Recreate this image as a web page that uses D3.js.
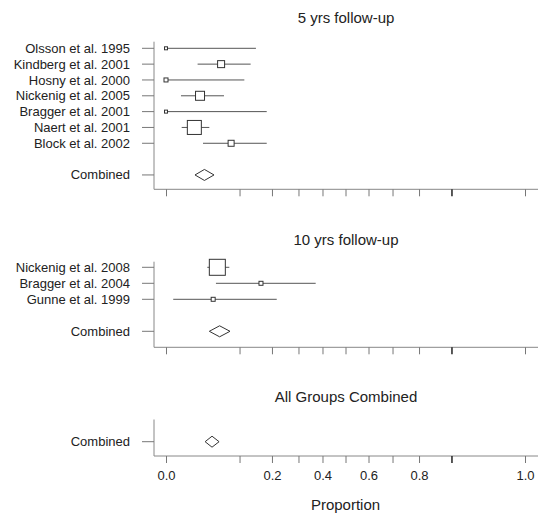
<!DOCTYPE html>
<html>
<head>
<meta charset="utf-8">
<script src="https://cdn.jsdelivr.net/npm/d3@7"></script>
<style>
  body { margin: 0; background: #fff; }
  svg text { font-family: "Liberation Sans", Arial, sans-serif; fill: #222; }
</style>
</head>
<body>
<div id="chart"></div>
<script>
// ---- data ----
const titles = ["5 yrs follow-up", "10 yrs follow-up", "All Groups Combined"];

const studies5 = ["Olsson et al. 1995", "Kindberg et al. 2001", "Hosny et al. 2000",
  "Nickenig et al. 2005", "Bragger et al. 2001", "Naert et al. 2001", "Block et al. 2002"];
const est5 = [0.0, 0.057, 0.0, 0.022, 0.0, 0.0153, 0.079];
const lo5 = [0.0, 0.019, 0.0, 0.0043, 0.0, 0.0047, 0.026];
const hi5 = [0.147, 0.131, 0.113, 0.063, 0.182, 0.0355, 0.182];
const w5 = [9, 49, 16, 81, 9, 196, 36];
const comb5 = [0.028, 0.016, 0.0435];

const studies10 = ["Nickenig et al. 2008", "Bragger et al. 2004", "Gunne et al. 1999"];
const est10 = [0.0496, 0.163, 0.042];
const lo10 = [0.0323, 0.047, 0.001];
const hi10 = [0.0748, 0.371, 0.217];
const w10 = [256, 16, 16];
const comb10 = [0.054, 0.0355, 0.0764];

const combAll = [0.040, 0.029, 0.053];

const tickVals = [0, 0.1, 0.2, 0.3, 0.4, 0.5, 0.6, 0.7, 0.8, 0.9, 1.0];
const tickLabels = ["0.0", "", "0.2", "", "0.4", "", "0.6", "", "0.8", "", "1.0"];

// ---- layout ----
const W = 538, H = 513;
const axisLeft = 154, labelX = 130;

const svg = d3.select("#chart").append("svg")
  .attr("width", W).attr("height", H);

// arcsine square-root transformed axis
const asr = p => Math.asin(Math.sqrt(p));
const x = d3.scaleLinear().domain([0, Math.PI / 2]).range([166, 525]);
const size = d3.scaleSqrt().domain([0, 256]).range([0, 16]);

const panels = [
  { names: studies5, est: est5, lo: lo5, hi: hi5, w: w5, comb: comb5,
    top: 41.7, row0: 48.3, step: 15.83, bottom: 189.3, titleY: 23 },
  { names: studies10, est: est10, lo: lo10, hi: hi10, w: w10, comb: comb10,
    top: 261.7, row0: 267.3, step: 16, bottom: 347.3, titleY: 245 },
  { names: [], est: [], lo: [], hi: [], w: [], comb: combAll,
    top: 419.5, row0: 441.7, step: 16, bottom: 456, titleY: 402 }
];

panels.forEach((p, pi) => {
  const n = p.names.length;
  const y = d3.scaleLinear().domain([0, 1]).range([p.row0, p.row0 + p.step]);
  const combIdx = n > 0 ? n + 1 : 0;
  const g = svg.append("g");

  // title
  g.append("text")
    .attr("x", (axisLeft + W) / 2)
    .attr("y", p.titleY)
    .attr("text-anchor", "middle")
    .style("font-size", "15px")
    .text(titles[pi]);

  // frame: left line and bottom line
  g.append("line")
    .attr("x1", axisLeft).attr("x2", axisLeft)
    .attr("y1", p.top).attr("y2", p.bottom)
    .attr("stroke", "#888");
  g.append("line")
    .attr("x1", axisLeft).attr("x2", W)
    .attr("y1", p.bottom).attr("y2", p.bottom)
    .attr("stroke", "#888");

  // bottom axis ticks
  const ax = g.append("g")
    .attr("transform", `translate(0,${p.bottom})`)
    .call(d3.axisBottom(x)
      .tickValues(tickVals.map(asr))
      .tickSize(7)
      .tickPadding(8)
      .tickFormat((d, i) => pi === panels.length - 1 ? tickLabels[i] : ""));
  ax.select(".domain").remove();
  ax.selectAll(".tick line")
    .attr("stroke", (d, i) => i === 9 ? "#222" : "#777")
    .attr("stroke-width", (d, i) => i === 9 ? 1.5 : 1);
  ax.selectAll(".tick text")
    .style("font-size", "13px")
    .style("font-family", "'Liberation Sans', Arial, sans-serif")
    .attr("fill", "#333");

  // row labels and left ticks
  const rows = p.names.map((d, i) => ({ name: d, idx: i }))
    .concat([{ name: "Combined", idx: combIdx }]);
  g.selectAll(".rowtick").data(rows).enter().append("line")
    .attr("x1", 142).attr("x2", axisLeft)
    .attr("y1", d => y(d.idx)).attr("y2", d => y(d.idx))
    .attr("stroke", "#777");
  g.selectAll(".rowlab").data(rows).enter().append("text")
    .attr("x", labelX)
    .attr("y", d => y(d.idx))
    .attr("dy", "0.35em")
    .attr("text-anchor", "end")
    .style("font-size", "13px")
    .text(d => d.name);

  // study CIs and boxes
  const st = p.names.map((d, i) => ({ i, est: p.est[i], lo: p.lo[i], hi: p.hi[i], w: p.w[i] }));
  g.selectAll(".ci").data(st).enter().append("line")
    .attr("x1", d => x(asr(d.lo))).attr("x2", d => x(asr(d.hi)))
    .attr("y1", d => y(d.i)).attr("y2", d => y(d.i))
    .attr("stroke", "#555");
  g.selectAll(".box").data(st).enter().append("rect")
    .attr("x", d => x(asr(d.est)) - size(d.w) / 2)
    .attr("y", d => y(d.i) - size(d.w) / 2)
    .attr("width", d => size(d.w))
    .attr("height", d => size(d.w))
    .attr("fill", "#fff")
    .attr("stroke", "#333");

  // combined diamond
  const cy = y(combIdx), h = 5.5;
  const [ce, cl, ch] = p.comb;
  g.append("polygon")
    .attr("points", [
      [x(asr(cl)), cy], [x(asr(ce)), cy - h], [x(asr(ch)), cy], [x(asr(ce)), cy + h]
    ].map(q => q.join(",")).join(" "))
    .attr("fill", "#fff")
    .attr("stroke", "#333");
});

// x-axis title
svg.append("text")
  .attr("x", (166 + 525) / 2)
  .attr("y", 510)
  .attr("text-anchor", "middle")
  .style("font-size", "15px")
  .text("Proportion");
</script>
</body>
</html>
